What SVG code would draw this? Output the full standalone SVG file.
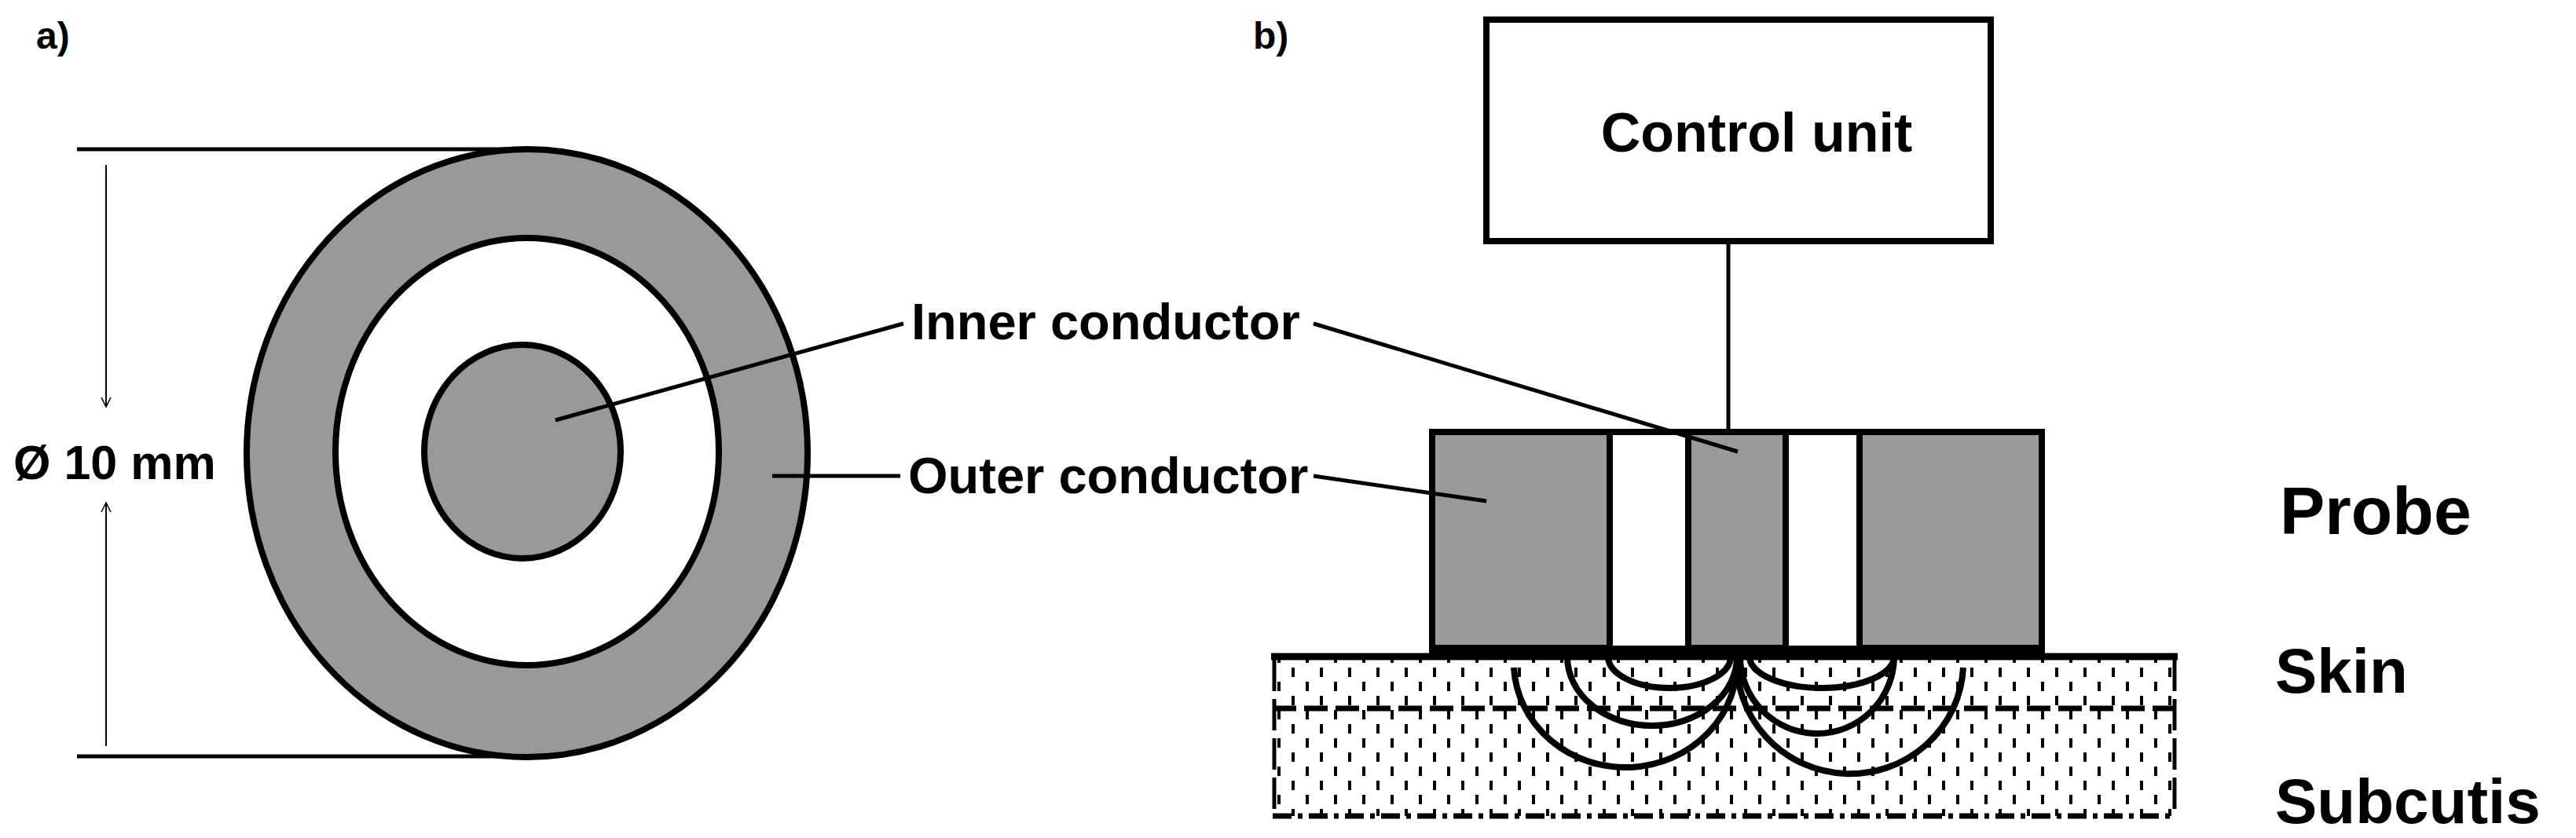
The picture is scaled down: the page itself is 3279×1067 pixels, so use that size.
<svg xmlns="http://www.w3.org/2000/svg" width="3279" height="1067" viewBox="0 0 3279 1067">
<style>
text{font-family:"Liberation Sans",Arial,sans-serif;font-weight:bold;fill:#000}
.g{fill:#999;stroke:#000;stroke-width:8}
.w{fill:#fff;stroke:#000;stroke-width:8}
.ln{stroke:#000;stroke-width:5;fill:none}
.arc{stroke:#000;stroke-width:8;fill:none}
.thin{stroke:#000;stroke-width:2;fill:none}
</style>
<defs>
<pattern id="dots" width="36" height="36" patternUnits="userSpaceOnUse">
<rect x="6" y="4" width="4" height="12" fill="#000"/>
<rect x="24" y="22" width="4" height="12" fill="#000"/>
</pattern>
<marker id="ah" markerWidth="14" markerHeight="14" refX="12" refY="7" orient="auto" markerUnits="userSpaceOnUse">
<path d="M0,1 L12,7 L0,13" fill="none" stroke="#000" stroke-width="1.5"/>
</marker>
</defs>
<text x="46" y="62" font-size="48">a)</text>
<text x="1595" y="62" font-size="48">b)</text>
<g id="coax">
<ellipse class="g" cx="671" cy="577" rx="357" ry="387"/>
<ellipse class="w" cx="671" cy="575" rx="244" ry="272"/>
<ellipse class="g" cx="665" cy="575" rx="125" ry="136"/>
</g>
<g id="dimension">
<line class="ln" x1="98" y1="190" x2="668" y2="190" stroke-width="4"/>
<line class="ln" x1="98" y1="963" x2="668" y2="963" stroke-width="4"/>
<line class="thin" x1="135" y1="210" x2="135" y2="518" marker-end="url(#ah)"/>
<line class="thin" x1="135" y1="950" x2="135" y2="640" marker-end="url(#ah)"/>
<text x="17" y="610" font-size="61">Ø 10 mm</text>
</g>
<g id="soil">
<rect x="1620" y="836" width="1150" height="203" fill="url(#dots)"/>
<line x1="1620" y1="902" x2="2770" y2="902" stroke="#000" stroke-width="7" stroke-dasharray="30,10"/>
<line x1="1620" y1="1039" x2="2770" y2="1039" stroke="#000" stroke-width="7" stroke-dasharray="24,8,6,8"/>
<line x1="1622" y1="840" x2="1622" y2="1039" stroke="#000" stroke-width="5" stroke-dasharray="40,10"/>
<line x1="2768" y1="840" x2="2768" y2="1039" stroke="#000" stroke-width="5" stroke-dasharray="40,10"/>
<line x1="1618" y1="836" x2="2772" y2="836" stroke="#000" stroke-width="9"/>
</g>
<g id="probe">
<rect class="g" x="1823" y="550" width="226" height="275"/>
<rect class="w" x="2049" y="550" width="100" height="280"/>
<rect class="g" x="2149" y="550" width="124" height="275"/>
<rect class="w" x="2273" y="550" width="94" height="280"/>
<rect class="g" x="2367" y="550" width="232" height="275"/>
<rect x="1819" y="822" width="784" height="14" fill="#000"/>
</g>
<g id="control-unit">
<rect x="1892" y="25" width="642" height="282" fill="#fff" stroke="#000" stroke-width="8"/>
<text x="2236" y="193" font-size="70" text-anchor="middle">Control unit</text>
</g>
<g id="connectors">
<line class="ln" x1="2200" y1="307" x2="2200" y2="550"/>
<line class="ln" x1="707" y1="535" x2="1150" y2="412"/>
<line class="ln" x1="1672" y1="412" x2="2212" y2="575"/>
<line class="ln" x1="983" y1="606" x2="1146" y2="606"/>
<line class="ln" x1="1672" y1="606" x2="1892" y2="638"/>
</g>
<g id="field">
<path class="arc" d="M2047,836 A78,40 0 0 0 2203,836"/>
<path class="arc" d="M1995,836 A108,88 0 0 0 2211,836"/>
<path class="arc" d="M1927,850 A142,134 0 0 0 2211,836"/>
<path class="arc" d="M2227,836 A92,40 0 0 0 2411,836"/>
<path class="arc" d="M2215,836 A98,98 0 0 0 2411,836"/>
<path class="arc" d="M2211,836 A144,142 0 0 0 2499,850"/>
</g>
<g id="labels">
<text x="1160" y="432" font-size="65">Inner conductor</text>
<text x="1156" y="628" font-size="65">Outer conductor</text>
<text x="2902" y="680" font-size="86">Probe</text>
<text x="2896" y="882" font-size="80">Skin</text>
<text x="2896" y="1048" font-size="80">Subcutis</text>
</g>
</svg>
